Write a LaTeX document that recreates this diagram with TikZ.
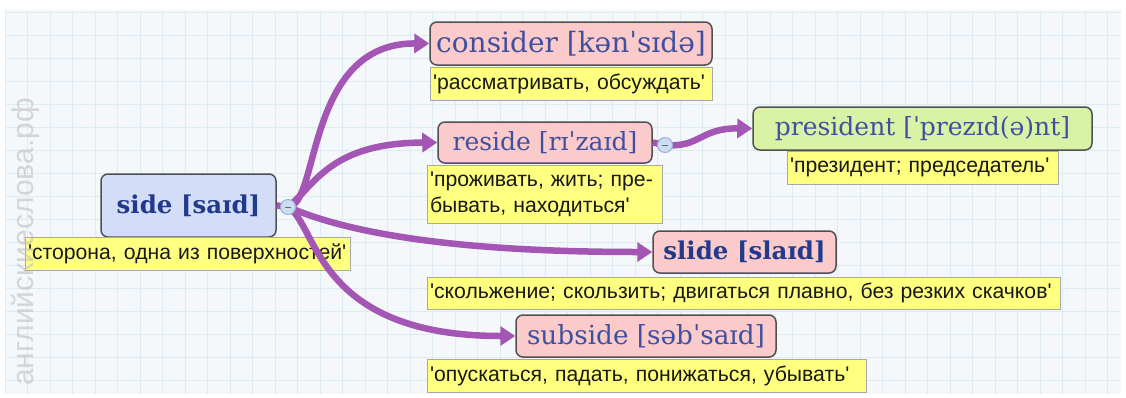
\documentclass[tikz,border=0pt]{standalone}
\usepackage{fontspec}
\usetikzlibrary{arrows.meta}
\newfontfamily\titlefont[Ligatures=TeXOff]{DejaVu Serif}
\newfontfamily\labfont[Ligatures=TeXOff]{Liberation Sans}
\newfontfamily\wmfont{Liberation Sans}
\definecolor{boxborder}{HTML}{505050}
\definecolor{sidefill}{HTML}{D3DDF7}
\definecolor{pinkfill}{HTML}{FBCACA}
\definecolor{greenfill}{HTML}{D9F3A6}
\definecolor{labyellow}{HTML}{FFFF80}
\definecolor{labborder}{HTML}{A8A8A8}
\definecolor{branch}{HTML}{A456B4}
\definecolor{titleblue}{HTML}{4050A0}
\definecolor{darkblue}{HTML}{223A8C}
\definecolor{circfill}{HTML}{CCDDF2}
\definecolor{circborder}{HTML}{9CB2D6}
\definecolor{gridbg}{HTML}{F5F8FB}
\definecolor{gridline}{HTML}{DDEBF3}
\definecolor{wmgray}{HTML}{BEBEBE}
\begin{document}
\begin{tikzpicture}[x=1pt,y=-1pt,
  titlebox/.style={draw=boxborder, line width=1.5pt, rounded corners=7pt, inner sep=0pt,
    font=\titlefont\fontsize{25}{29}\selectfont, text=titleblue},
  boldtitle/.style={titlebox, font=\titlefont\bfseries\fontsize{24.5}{28}\selectfont, text=darkblue},
  lab/.style={draw=labborder, line width=1pt, fill=labyellow, inner xsep=3pt, inner ysep=0pt,
    font=\labfont\fontsize{21.2}{26}\selectfont, text=black!90, align=left},
  collapse/.style={circle, draw=circborder, fill=circfill, line width=1pt, minimum size=15pt, inner sep=0pt},
  conn/.style={draw=branch, line width=6.5pt, -{Triangle[length=15pt,width=19pt]}},
  stub/.style={draw=branch, line width=6.5pt}]
\useasboundingbox (0,0) rectangle (1126,397);
\fill[white] (0,0) rectangle (1126,397);
\fill[gridbg] (5,10) rectangle (1121,394);
\foreach \i in {0,...,49} {\draw[gridline, line width=1pt] (5+22.5*\i,10) -- (5+22.5*\i,394);}
\foreach \j in {0,...,16} {\draw[gridline, line width=1pt] (5,12+23*\j) -- (1121,12+23*\j);}

% nodes
\node[titlebox, boldtitle, fill=sidefill, minimum width=175pt, minimum height=63pt] (side) at (188.5,205.5) {side [saɪd]};
\node[lab, text width=319pt, minimum height=33pt] (sidelab) at (187.5,253.5) {'сторона, одна из поверхностей'};

\node[titlebox, fill=pinkfill, minimum width=282pt, minimum height=43pt, font=\titlefont\fontsize{28}{32}\selectfont] (consider) at (571,43.5) {consider [kənˈsɪdə]};
\node[lab, text width=276pt, minimum height=33pt] (conslab) at (571,83.5) {'рассматривать, обсуждать'};

\node[titlebox, fill=pinkfill, minimum width=214pt, minimum height=41pt] (reside) at (545,142.5) {reside [rɪˈzaɪd]};
\node[lab, text width=229pt, minimum height=58pt] (reslab) at (544.5,194) {'проживать, жить; пре-\\бывать, находиться'};

\node[titlebox, fill=greenfill, minimum width=339pt, minimum height=43pt] (president) at (922.5,128.5) {president [ˈprezɪd(ə)nt]};
\node[lab, text width=265pt, minimum height=33pt] (preslab) at (922.5,167.5) {'президент; председатель'};

\node[titlebox, boldtitle, fill=pinkfill, minimum width=183pt, minimum height=42pt] (slide) at (744.5,252) {slide [slaɪd]};
\node[lab, text width=627pt, minimum height=32pt] (slidelab) at (743.5,293) {'скольжение; скользить; двигаться плавно, без резких скачков'};

\node[titlebox, fill=pinkfill, minimum width=260pt, minimum height=42pt, font=\titlefont\fontsize{26.3}{30}\selectfont] (subside) at (646,336) {subside [səbˈsaɪd]};
\node[lab, text width=433pt, minimum height=33pt] (sublab) at (646.5,375.5) {'опускаться, падать, понижаться, убывать'};

% connectors
\draw[stub] (side.east) -- (288,207);
\draw[stub] (reside.east) -- (665,145);
\draw[conn] (288,207) .. controls (320,205) and (305,43) .. (consider.west);
\draw[conn] (288,207) .. controls (315,185) and (330,143) .. (reside.west);
\draw[conn] (288,207) .. controls (330,225) and (420,252) .. (slide.west);
\draw[conn] (288,207) .. controls (318,225) and (315,336) .. (subside.west);
\draw[conn] (665,145) .. controls (700,148) and (700,128) .. (president.west);
\node[collapse] (c1) at (288,207) {};
\draw[circborder!60!black, line width=1pt] ([xshift=-3pt]c1.center) -- ([xshift=3pt]c1.center);
\node[collapse] (c2) at (665,145) {};
\draw[circborder!60!black, line width=1pt] ([xshift=-3pt]c2.center) -- ([xshift=3pt]c2.center);

% watermark
\node[rotate=90, text=wmgray, opacity=0.6, font=\wmfont\fontsize{30}{30}\selectfont] (wm) at (25,242) {английскиеслова.рф};
\end{tikzpicture}
\end{document}
